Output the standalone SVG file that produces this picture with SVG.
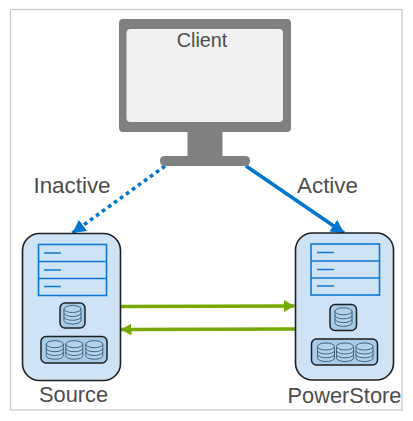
<svg xmlns="http://www.w3.org/2000/svg" width="413" height="421" viewBox="0 0 413 421">
<style>
text{font-family:"Liberation Sans",Arial,sans-serif;font-size:21.800px;fill:#4d4d4d}
.big{font-size:22.400px}
.body{fill:#cfe3f6;stroke:#1f1f1f;stroke-width:1.6}
.stack{fill:#cfe3f6;stroke:#0f78d4;stroke-width:1.6}
.dash{stroke:#0f78d4;stroke-width:1.6;fill:none}
.pod{fill:#a9cbe8;stroke:#1f1f1f;stroke-width:1.5}
.cyl{fill:#b4d2ec;stroke:#3f6580;stroke-width:1}
.line{fill:none;stroke:#3f6580;stroke-width:1}
.blue{stroke:#0076ce;stroke-width:3.600;fill:none}
.green{stroke:#76a800;stroke-width:3.600;fill:none}
</style>
<defs>
<marker id="ab" markerUnits="userSpaceOnUse" markerWidth="15" markerHeight="15" refX="13" refY="7" orient="auto"><path d="M0 0L13 7L0 14Z" fill="#0076ce"/></marker>
<marker id="ag" markerUnits="userSpaceOnUse" markerWidth="12" markerHeight="13" refX="10.500" refY="6" orient="auto"><path d="M0 0L10.500 6L0 12Z" fill="#76a800"/></marker>
<g id="cyl"><path class="cyl" d="M0 3.500A8.500 3.500 0 0 1 17 3.500V15A8.500 3.500 0 0 1 0 15Z"/><path class="line" d="M0 3.500A8.500 3.500 0 0 0 17 3.500M0 7.500A8.500 3.500 0 0 0 17 7.500M0 11.300A8.500 3.500 0 0 0 17 11.300"/></g>
</defs>
<rect x="10.500" y="9.500" width="391.500" height="400.500" fill="#fff" stroke="#c8c8c8" stroke-width="1.300"/>
<g id="connectors">
<line class="blue" x1="165" y1="166" x2="72.500" y2="233" stroke-dasharray="3.700 3.700" marker-end="url(#ab)"/>
<line class="blue" x1="246" y1="166" x2="344" y2="233" marker-end="url(#ab)"/>
<line class="green" x1="120.500" y1="306.500" x2="294.500" y2="306" marker-end="url(#ag)"/>
<line class="green" x1="295" y1="329" x2="121" y2="329.500" marker-end="url(#ag)"/>
</g>
<g id="client">
<rect x="119" y="19" width="172" height="113" rx="4" fill="#808080"/>
<rect x="126.500" y="29" width="156.500" height="93" rx="4" fill="#f1f1f1"/>
<rect x="187.500" y="131" width="35" height="27" fill="#808080"/>
<rect x="160" y="156" width="90" height="10" rx="4.500" fill="#808080"/>
<text x="202" y="47" text-anchor="middle" style="font-size:19.800px">Client</text>
</g>
<g id="source">
<rect class="body" x="22.500" y="233.500" width="98" height="147" rx="17"/>
<rect class="stack" x="38.500" y="244.500" width="68" height="51"/>
<path class="dash" d="M38.500 261.500H106.500M38.500 278.500H106.500M44 253H61M44 270H61M44 286.500H61"/>
<rect class="pod" x="60" y="303" width="25" height="25" rx="5"/>
<use href="#cyl" x="64" y="305.500"/>
<rect class="pod" x="41" y="336.500" width="66" height="26.500" rx="5"/>
<use href="#cyl" x="46.300" y="340.700"/><use href="#cyl" x="65.800" y="340.700"/><use href="#cyl" x="85.800" y="340.700"/>
<text x="73.500" y="402" text-anchor="middle">Source</text>
</g>
<g id="powerstore">
<rect class="body" x="295.500" y="233" width="98" height="147" rx="17"/>
<rect class="stack" x="311" y="244" width="68.500" height="51"/>
<path class="dash" d="M311 261H379.500M311 278H379.500M317 252.500H334M317 269.500H334M317 286H334"/>
<rect class="pod" x="330" y="304.500" width="26.500" height="26" rx="5"/>
<use href="#cyl" x="335" y="307.800"/>
<rect class="pod" x="311.500" y="339" width="66" height="26" rx="5"/>
<use href="#cyl" x="317.500" y="343"/><use href="#cyl" x="336.500" y="343"/><use href="#cyl" x="356" y="343"/>
<text x="344.500" y="403" text-anchor="middle">PowerStore</text>
</g>
<text class="big" x="72" y="193" text-anchor="middle">Inactive</text>
<text class="big" x="327.500" y="193" text-anchor="middle">Active</text>
</svg>
